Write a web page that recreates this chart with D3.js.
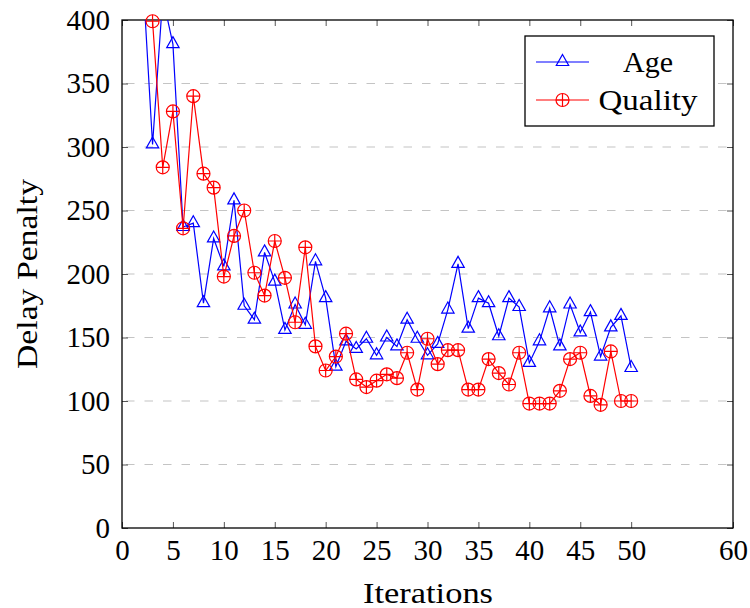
<!DOCTYPE html>
<html>
<head>
<meta charset="utf-8">
<script src="https://cdn.jsdelivr.net/npm/d3@7"></script>
<style>
  body { margin: 0; background: #fff; }
  text { font-family: "Liberation Serif", serif; fill: #000; }
</style>
</head>
<body>
<script>
const width = 750;
const height = 608;
const margin = { top: 20, right: 17, bottom: 80, left: 122 };

// data
const ageIter = [2, 3, 4, 5, 6, 7, 8, 9, 10, 11, 12, 13, 14, 15, 16, 17, 18, 19, 20, 21, 22, 23, 24, 25, 26,
  27, 28, 29, 30, 31, 32, 33, 34, 35, 36, 37, 38, 39, 40, 41, 42, 43, 44, 45, 46, 47, 48, 49, 50];
const ageValues = [440, 302, 418, 381, 237, 240, 177, 228, 206, 258, 175, 164, 217, 194, 156, 176, 160, 210,
  181, 127, 147, 141, 149, 136, 150, 143, 164, 149, 136, 145, 172, 208, 157, 181, 177, 151, 181, 174, 130,
  147, 173, 143, 176, 154, 170, 135, 158, 167, 126];
const qualityIter = [3, 4, 5, 6, 7, 8, 9, 10, 11, 12, 13, 14, 15, 16, 17, 18, 19, 20, 21, 22, 23, 24, 25, 26,
  27, 28, 29, 30, 31, 32, 33, 34, 35, 36, 37, 38, 39, 40, 41, 42, 43, 44, 45, 46, 47, 48, 49, 50];
const qualityValues = [399, 284, 328, 236, 340, 279, 268, 198, 230, 250, 201, 183, 226, 197, 162, 221, 143,
  124, 135, 153, 117, 111, 116, 121, 118, 138, 109, 149, 129, 140, 140, 109, 109, 133, 122, 113, 138, 98,
  98, 98, 108, 133, 138, 104, 97, 139, 100, 100];
const xTicks = [0, 5, 10, 15, 20, 25, 30, 35, 40, 45, 50, 60];
const yTicks = [0, 50, 100, 150, 200, 250, 300, 350, 400];
const seriesNames = ["Age", "Quality"];

const ageData = ageIter.map((x, i) => ({ x: x, y: ageValues[i] }));
const qualityData = qualityIter.map((x, i) => ({ x: x, y: qualityValues[i] }));

var svg = d3.select("body").append("svg")
  .attr("width", width)
  .attr("height", height);

var x = d3.scaleLinear().domain([0, 60]).range([margin.left, width - margin.right]);
var y = d3.scaleLinear().domain([0, 400]).range([height - margin.bottom, margin.top]);

svg.append("clipPath").attr("id", "plotclip")
  .append("rect")
  .attr("x", x(0)).attr("y", y(400))
  .attr("width", x(60) - x(0)).attr("height", y(0) - y(400));

// dashed grid
svg.append("g")
  .selectAll("line")
  .data(yTicks.filter(d => d > 0 && d < 400))
  .enter().append("line")
  .attr("x1", x(0)).attr("x2", x(60))
  .attr("y1", d => y(d)).attr("y2", d => y(d))
  .attr("stroke", "#c4c4c4")
  .attr("stroke-width", 1.1)
  .attr("stroke-dasharray", "8.5,10")
  .attr("stroke-dashoffset", -4);

// axes, ticks pointing inwards
function styleAxis(g) {
  g.select(".domain").remove();
  g.selectAll(".tick line").attr("stroke", "#555").attr("stroke-width", 1);
  g.selectAll(".tick text").style("font-size", "29px").style("font-family", "Liberation Serif, serif");
}

svg.append("g")
  .attr("transform", "translate(0," + y(0) + ")")
  .call(d3.axisBottom(x).tickValues(xTicks).tickSize(-6).tickPadding(11).tickFormat(d3.format("d")))
  .call(styleAxis);

svg.append("g")
  .attr("transform", "translate(0," + y(400) + ")")
  .call(d3.axisTop(x).tickValues(xTicks).tickSize(-6).tickFormat(""))
  .call(styleAxis);

svg.append("g")
  .attr("transform", "translate(" + x(0) + ",0)")
  .call(d3.axisLeft(y).tickValues(yTicks).tickSize(-6).tickPadding(12).tickFormat(d3.format("d")))
  .call(styleAxis);

svg.append("g")
  .attr("transform", "translate(" + x(60) + ",0)")
  .call(d3.axisRight(y).tickValues(yTicks).tickSize(-6).tickFormat(""))
  .call(styleAxis);

svg.selectAll(".tick text").attr("fill", "#000");

// frame
svg.append("rect")
  .attr("x", x(0)).attr("y", y(400))
  .attr("width", x(60) - x(0)).attr("height", y(0) - y(400))
  .attr("fill", "none")
  .attr("stroke", "#000")
  .attr("stroke-width", 1.3);

var line = d3.line().x(d => x(d.x)).y(d => y(d.y));

function triangle(g, color) {
  g.append("path")
    .attr("d", "M0,-7.5L6.2,3.5L-6.2,3.5Z")
    .attr("fill", "none")
    .attr("stroke", color)
    .attr("stroke-width", 1.2);
}

function oplus(g, color) {
  g.append("circle").attr("r", 6.5)
    .attr("fill", "none").attr("stroke", color).attr("stroke-width", 1.2);
  g.append("path").attr("d", "M-6.5,0H6.5M0,-6.5V6.5")
    .attr("stroke", color).attr("stroke-width", 1.2);
}

function drawSeries(data, color, marker) {
  svg.append("path")
    .datum(data)
    .attr("clip-path", "url(#plotclip)")
    .attr("fill", "none")
    .attr("stroke", color)
    .attr("stroke-width", 1.2)
    .attr("d", line);

  svg.append("g")
    .selectAll("g")
    .data(data.filter(d => d.y <= 400))
    .enter().append("g")
    .attr("transform", d => "translate(" + x(d.x) + "," + y(d.y) + ")")
    .each(function() { marker(d3.select(this), color); });
}

drawSeries(ageData, "#0000ff", triangle);
drawSeries(qualityData, "#ff0000", oplus);

// legend
var legend = svg.append("g").attr("transform", "translate(525,36)");
legend.append("rect")
  .attr("width", 189).attr("height", 90)
  .attr("fill", "#fff").attr("stroke", "#000").attr("stroke-width", 1.3);

var legendColors = ["#0000ff", "#ff0000"];
var legendMarkers = [triangle, oplus];
var legendWidths = [50, 99];
seriesNames.forEach(function(name, i) {
  var row = legend.append("g").attr("transform", "translate(0," + (26 + i * 38) + ")");
  row.append("line")
    .attr("x1", 11).attr("x2", 64)
    .attr("stroke", legendColors[i]).attr("stroke-width", 1.2);
  legendMarkers[i](row.append("g").attr("transform", "translate(37.5,0)"), legendColors[i]);
  row.append("text")
    .attr("x", 123).attr("dy", "0.35em")
    .attr("text-anchor", "middle")
    .attr("textLength", legendWidths[i])
    .attr("lengthAdjust", "spacingAndGlyphs")
    .style("font-size", "29px")
    .text(name);
});

// axis titles
svg.append("text")
  .attr("x", 428)
  .attr("y", 603)
  .attr("text-anchor", "middle")
  .attr("textLength", 130)
  .attr("lengthAdjust", "spacingAndGlyphs")
  .style("font-size", "29px")
  .text("Iterations");

svg.append("text")
  .attr("transform", "translate(27," + ((y(0) + y(400)) / 2) + ") rotate(-90)")
  .attr("dy", "0.35em")
  .attr("text-anchor", "middle")
  .attr("textLength", 190)
  .attr("lengthAdjust", "spacingAndGlyphs")
  .style("font-size", "29px")
  .text("Delay Penalty");
</script>
</body>
</html>
